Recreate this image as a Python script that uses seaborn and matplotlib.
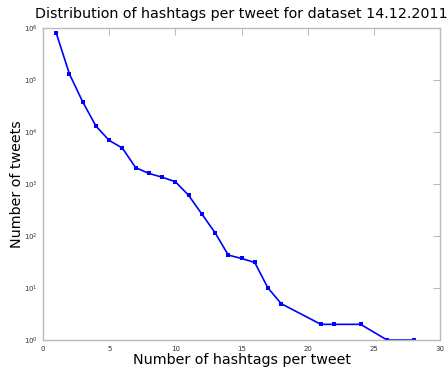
import matplotlib
matplotlib.use("Agg")
import matplotlib.pyplot as plt
import seaborn as sns
import pandas as pd
from matplotlib.ticker import LogLocator, LogFormatterMathtext, NullLocator

hashtags = [1, 2, 3, 4, 5, 6, 7, 8, 9, 10, 11, 12, 13, 14, 15, 16, 17, 18, 21, 22, 24, 26, 28]
tweets = [800000, 130000, 38000, 13000, 6900, 4900, 2060, 1600, 1350, 1110,
          607, 265, 116, 43, 37, 31, 10, 5, 2, 2, 2, 1, 1]

df = pd.DataFrame({"hashtags": hashtags, "tweets": tweets})

sns.set_style("white")
plt.rcParams["font.family"] = ["DejaVu Sans"]
plt.rcParams["text.color"] = "black"
plt.rcParams["axes.labelcolor"] = "black"

fig = plt.figure(figsize=(4.48, 3.72), dpi=100)
ax = fig.add_axes([43 / 448, 1 - 340 / 372, 397 / 448, 312 / 372])

sns.lineplot(data=df, x="hashtags", y="tweets", ax=ax, color="#0000ff",
             marker="s", markersize=3.5, markeredgewidth=0, linewidth=1.2)

ax.set_yscale("log")
ax.set_xlim(0, 30)
ax.set_ylim(1, 1e6)
ax.set_xticks([0, 5, 10, 15, 20, 25, 30])
ax.yaxis.set_major_locator(LogLocator(base=10, numticks=10))
ax.yaxis.set_major_formatter(LogFormatterMathtext())
ax.yaxis.set_minor_locator(NullLocator())

for s in ax.spines.values():
    s.set_visible(True)
    s.set_color("#bbbbbb")
    s.set_linewidth(1.0)

ax.tick_params(axis="both", which="major", direction="in", length=5,
               color="#bbbbbb", labelsize=5, labelcolor="#333333",
               top=True, right=True, pad=4)

ax.set_xlabel("Number of hashtags per tweet", fontsize=10.3, labelpad=1)
ax.set_ylabel("Number of tweets", fontsize=10.3, labelpad=-0.5)
ax.set_title("Distribution of hashtags per tweet for dataset 14.12.2011",
             fontsize=10.3, pad=7)

fig.savefig("out.png", dpi=100)
